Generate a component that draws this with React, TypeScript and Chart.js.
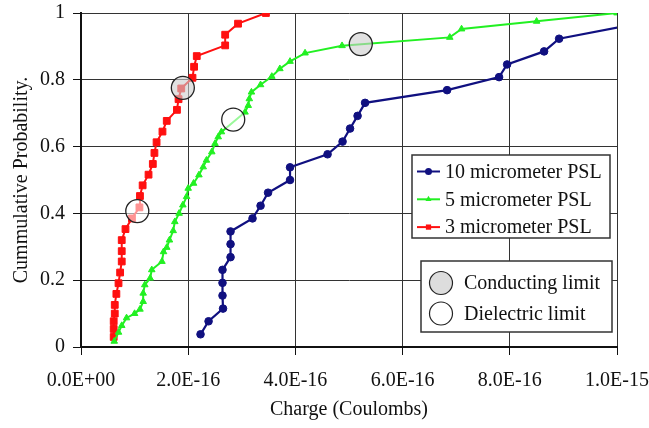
import React, { useEffect, useRef } from "react";
import { Chart, registerables } from "chart.js";

Chart.register(...registerables);

const FONT = "'Liberation Serif', 'Times New Roman', serif";

// Charge values are in units of 1e-16 Coulombs
const charge10um = [2.23, 2.38, 2.65, 2.64, 2.64, 2.64, 2.79, 2.79, 2.79, 3.2, 3.35, 3.49, 3.9, 3.9, 4.6, 4.88, 5.02, 5.16, 5.3, 6.83, 7.8, 7.95, 8.64, 8.92, 10.2];
const prob10um = [0.038, 0.077, 0.115, 0.154, 0.192, 0.231, 0.269, 0.308, 0.346, 0.385, 0.423, 0.462, 0.5, 0.538, 0.577, 0.615, 0.654, 0.692, 0.731, 0.769, 0.808, 0.846, 0.885, 0.923, 0.962];

const charge5um = [0.62, 0.7, 0.76, 0.85, 1.0, 1.1, 1.16, 1.16, 1.19, 1.29, 1.32, 1.51, 1.54, 1.6, 1.65, 1.72, 1.75, 1.83, 1.9, 1.97, 2.0, 2.1, 2.2, 2.28, 2.34, 2.44, 2.5, 2.56, 2.62, 3.06, 3.12, 3.14, 3.18, 3.35, 3.56, 3.71, 3.9, 4.18, 4.87, 6.88, 7.1, 8.5, 10.0];
const prob5um = [0.017, 0.044, 0.064, 0.087, 0.1, 0.113, 0.136, 0.161, 0.186, 0.206, 0.231, 0.256, 0.285, 0.298, 0.32, 0.348, 0.375, 0.4, 0.425, 0.45, 0.475, 0.49, 0.515, 0.539, 0.559, 0.584, 0.609, 0.629, 0.644, 0.703, 0.723, 0.743, 0.763, 0.785, 0.81, 0.833, 0.855, 0.88, 0.902, 0.927, 0.952, 0.975, 1.0];

const charge3um = [0.61, 0.61, 0.61, 0.63, 0.63, 0.66, 0.7, 0.73, 0.76, 0.76, 0.76, 0.83, 0.95, 1.09, 1.1, 1.15, 1.26, 1.34, 1.37, 1.41, 1.52, 1.6, 1.79, 1.82, 1.87, 2.08, 2.11, 2.16, 2.69, 2.69, 2.93, 3.45];
const prob3um = [0.03, 0.054, 0.077, 0.1, 0.126, 0.159, 0.191, 0.223, 0.256, 0.287, 0.32, 0.353, 0.385, 0.418, 0.452, 0.484, 0.516, 0.548, 0.581, 0.613, 0.645, 0.677, 0.71, 0.742, 0.774, 0.806, 0.839, 0.871, 0.903, 0.935, 0.968, 1.0];

const conductingCharge = [1.9, 5.22];
const conductingProb = [0.776, 0.907];
const dielectricCharge = [1.05, 2.84];
const dielectricProb = [0.407, 0.681];

const seriesLabels = ["10 micrometer PSL", "5 micrometer PSL", "3 micrometer PSL"];
const limitLabels = ["Conducting limit", "Dielectric limit"];
const xTitle = "Charge (Coulombs)";
const yTitle = "Cummulative Probability.";
const xMin = 0;
const xMax = 10;
const xStep = 2;
const yMin = 0;
const yMax = 1;
const yStep = 0.2;

const toPts = (xs: number[], ys: number[]) => xs.map((x, i) => ({ x, y: ys[i] }));

function sci(v: number): string {
  const c = v * 1e-16;
  if (Math.abs(c) < 1e-30) return "0.0E+00";
  const e = Math.floor(Math.log10(Math.abs(c)) + 1e-9);
  const m = c / Math.pow(10, e);
  return m.toFixed(1) + "E" + (e < 0 ? "-" : "+") + String(Math.abs(e)).padStart(2, "0");
}

function drawMarker(ctx: CanvasRenderingContext2D, style: string, x: number, y: number, r: number, fill: string) {
  ctx.beginPath();
  if (style === "circle") {
    ctx.arc(x, y, r, 0, Math.PI * 2);
  } else if (style === "triangle") {
    ctx.moveTo(x, y - r);
    ctx.lineTo(x + r * 0.866, y + r * 0.5);
    ctx.lineTo(x - r * 0.866, y + r * 0.5);
    ctx.closePath();
  } else {
    const s = r * 0.75;
    ctx.rect(x - s, y - s, 2 * s, 2 * s);
  }
  ctx.fillStyle = fill;
  ctx.fill();
}

const legendPlugin = {
  id: "boxLegends",
  afterDraw(chart: any) {
    const ctx: CanvasRenderingContext2D = chart.ctx;
    const ds = chart.data.datasets;
    ctx.save();
    ctx.font = `20px ${FONT}`;
    ctx.textBaseline = "middle";
    ctx.textAlign = "left";

    // series legend box
    const b1 = { x: 412, y: 155, w: 198, h: 83 };
    ctx.fillStyle = "#ffffff";
    ctx.fillRect(b1.x, b1.y, b1.w, b1.h);
    ctx.lineWidth = 1.5;
    ctx.strokeStyle = "#333";
    ctx.strokeRect(b1.x, b1.y, b1.w, b1.h);
    const series = ds.filter((d: any) => d.kind === "series");
    series.forEach((d: any, i: number) => {
      const cy = b1.y + 16.5 + i * 27.8;
      ctx.strokeStyle = d.borderColor;
      ctx.lineWidth = 2;
      ctx.beginPath();
      ctx.moveTo(b1.x + 5, cy);
      ctx.lineTo(b1.x + 28, cy);
      ctx.stroke();
      drawMarker(ctx, d.pointStyle, b1.x + 16.5, cy, 3.5, d.backgroundColor);
      ctx.fillStyle = "#111";
      ctx.fillText(d.label, b1.x + 33, cy + 1);
    });

    // limit legend box
    const b2 = { x: 421, y: 261, w: 191, h: 71 };
    ctx.fillStyle = "#ffffff";
    ctx.fillRect(b2.x, b2.y, b2.w, b2.h);
    ctx.lineWidth = 1.5;
    ctx.strokeStyle = "#333";
    ctx.strokeRect(b2.x, b2.y, b2.w, b2.h);
    const limits = ds.filter((d: any) => d.kind === "limit");
    limits.forEach((d: any, i: number) => {
      const cy = b2.y + 22 + i * 30.5;
      ctx.beginPath();
      ctx.arc(b2.x + 20, cy, 11.5, 0, Math.PI * 2);
      ctx.fillStyle = d.legendFill;
      ctx.fill();
      ctx.lineWidth = 1.2;
      ctx.strokeStyle = "#222";
      ctx.stroke();
      ctx.fillStyle = "#111";
      ctx.fillText(d.label, b2.x + 43, cy + 1);
    });
    ctx.restore();
  },
};

export default function App() {
  const ref = useRef<HTMLCanvasElement | null>(null);

  useEffect(() => {
    if (!ref.current) return;
    const seriesCommon = {
      showLine: true,
      tension: 0,
      borderWidth: 2,
      pointBorderWidth: 1,
      order: 1,
      kind: "series",
    };
    const chart = new Chart(ref.current, {
      type: "scatter",
      data: {
        datasets: [
          {
            ...seriesCommon,
            label: seriesLabels[0],
            data: toPts(charge10um, prob10um),
            borderColor: "#101080",
            backgroundColor: "#101080",
            pointBorderColor: "#101080",
            pointStyle: "circle",
            pointRadius: 3.8,
            borderWidth: 2.2,
          },
          {
            ...seriesCommon,
            label: seriesLabels[1],
            data: toPts(charge5um, prob5um),
            borderColor: "#22f022",
            backgroundColor: "#22f022",
            pointBorderColor: "#22f022",
            pointStyle: "triangle",
            pointRadius: 3.8,
          },
          {
            ...seriesCommon,
            label: seriesLabels[2],
            data: toPts(charge3um, prob3um),
            borderColor: "#ff1010",
            backgroundColor: "#ff1010",
            pointBorderColor: "#ff1010",
            pointStyle: "rect",
            pointRadius: 4.8,
          },
          {
            label: limitLabels[0],
            kind: "limit",
            legendFill: "#dddddd",
            data: toPts(conductingCharge, conductingProb),
            showLine: false,
            pointStyle: "circle",
            pointRadius: 11.5,
            backgroundColor: "rgba(205,205,205,0.6)",
            borderColor: "#222",
            pointBorderWidth: 1.3,
            order: 0,
          },
          {
            label: limitLabels[1],
            kind: "limit",
            legendFill: "#ffffff",
            data: toPts(dielectricCharge, dielectricProb),
            showLine: false,
            pointStyle: "circle",
            pointRadius: 11.5,
            backgroundColor: "rgba(255,255,255,0.55)",
            borderColor: "#222",
            pointBorderWidth: 1.3,
            order: 0,
          },
        ] as any,
      },
      options: {
        responsive: false,
        animation: false,
        devicePixelRatio: 1,
        layout: { padding: { left: 0, right: 32, top: 13, bottom: 0 } },
        plugins: {
          legend: { display: false },
          tooltip: { enabled: false },
        },
        scales: {
          x: {
            type: "linear",
            min: xMin,
            max: xMax,
            ticks: {
              stepSize: xStep,
              maxRotation: 0,
              autoSkip: false,
              padding: 14,
              color: "#111",
              font: { family: FONT, size: 20 },
              callback: (v: any) => sci(Number(v)),
            },
            grid: { color: "#333", lineWidth: 1, tickLength: 8, tickColor: "#111" },
            border: { display: true, color: "#111", width: 2 },
            title: {
              display: true,
              text: xTitle,
              color: "#111",
              font: { family: FONT, size: 20 },
              padding: { top: 0, bottom: 6 },
            },
            afterFit: (s: any) => {
              s.height = 81;
              s.paddingLeft = 0;
              s.paddingRight = 0;
            },
          },
          y: {
            type: "linear",
            min: yMin,
            max: yMax,
            ticks: {
              stepSize: yStep,
              padding: 8,
              color: "#111",
              font: { family: FONT, size: 20 },
              callback: (v: any) => String(Number(Number(v).toFixed(1))),
            },
            grid: { color: "#333", lineWidth: 1, tickLength: 8, tickColor: "#111" },
            border: { display: true, color: "#111", width: 2 },
            title: {
              display: true,
              text: yTitle,
              color: "#111",
              font: { family: FONT, size: 20 },
              padding: { top: 10, bottom: 0 },
            },
            afterFit: (s: any) => {
              s.width = 81;
              s.paddingTop = 0;
              s.paddingBottom = 0;
            },
          },
        },
      } as any,
      plugins: [legendPlugin],
    });
    return () => chart.destroy();
  }, []);

  return (
    <div style={{ position: "absolute", left: 0, top: 0, width: 649, height: 428, background: "#fff" }}>
      <canvas ref={ref} width={649} height={428} style={{ width: 649, height: 428, display: "block" }} />
    </div>
  );
}
